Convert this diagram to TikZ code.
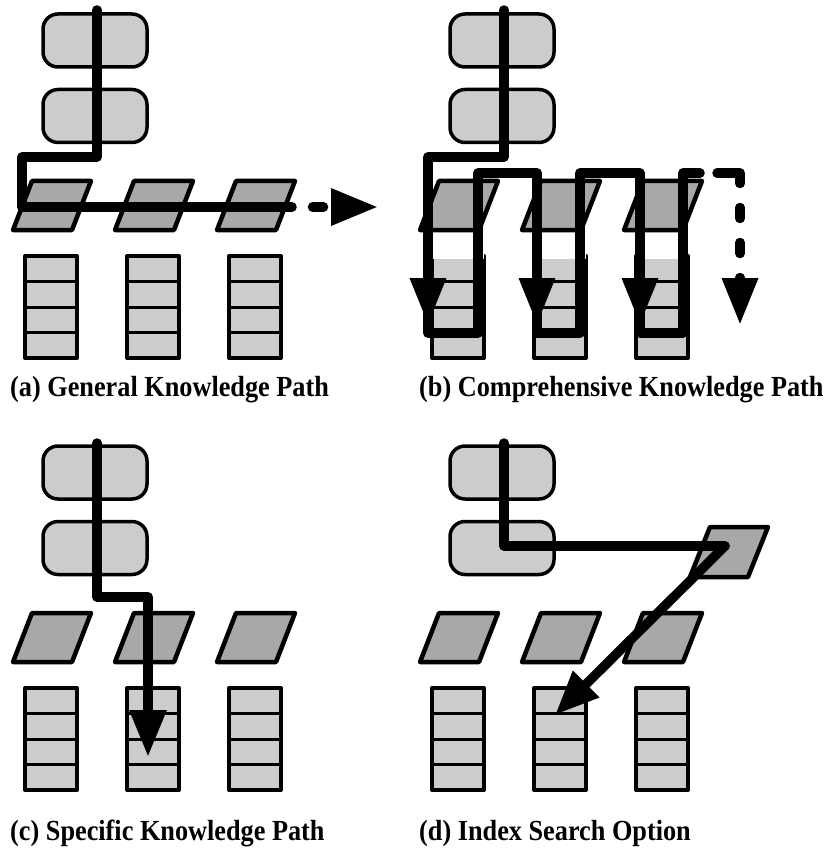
\documentclass[tikz,border=0pt]{standalone}
\usepackage{fontspec}
\setmainfont{Liberation Serif}
\usetikzlibrary{arrows.meta}
\definecolor{lightbox}{gray}{0.8}
\definecolor{darkpara}{gray}{0.66}
\tikzset{
  rbox/.style={draw, line width=3.5pt, fill=lightbox, rounded corners=15pt,
    minimum width=104pt, minimum height=53pt, inner sep=0pt},
  para/.style={draw, line width=4.5pt, fill=darkpara, line join=round},
  cellbox/.style={draw, line width=4pt, fill=lightbox, line join=round},
  cellline/.style={line width=3pt},
  route/.style={line width=9.5pt, line cap=round, line join=round},
  bigtip/.style={-{Triangle[length=47pt,width=35pt]}},
  midtip/.style={-{Triangle[length=47pt,width=34pt]}},
  diagtip/.style={-{Triangle[length=44pt,width=35pt]}},
  caption/.style={anchor=base west, inner sep=0pt, font=\bfseries\fontsize{26}{30}\selectfont},
}
\newcommand{\captext}[1]{\scalebox{1.01}[1.12]{#1}}
\newcommand{\panelparts}[1]{%
  \node[rbox] (#1top) at (95,40.5) {};
  \node[rbox] (#1mid) at (95,116) {};
  \foreach \i in {0,1,2}{%
    \draw[para] ({32+102*\i},181) -- ({91+102*\i},181) -- ({72+102*\i},230) -- ({13+102*\i},230) -- cycle;
    \draw[cellbox] ({25+102*\i},256) rectangle ({77+102*\i},358);
    \foreach \yy in {281.5,307,332.5}{\draw[cellline] ({25+102*\i},\yy) -- ({77+102*\i},\yy);}
  }%
}
\begin{document}
\begin{tikzpicture}[x=1pt,y=-1pt]
\useasboundingbox (0,0) rectangle (828,850);

% ---------- (a)
\begin{scope}
  \panelparts{a}
  \coordinate (a0) at (97,10);
  \coordinate (a1) at (97,157);
  \coordinate (a2) at (22,157);
  \coordinate (a3) at (22,207);
  \coordinate (a4) at (292,207);
  \coordinate (a5) at (312.5,207);
  \coordinate (a6) at (378,207);
  \draw[route] (a0) -- (a1) -- (a2) -- (a3) -- (a4);
  \draw[route, bigtip, dash pattern=on 11pt off 100pt] (a5) -- (a6);
\end{scope}

% ---------- (b)
\begin{scope}[shift={(407,0)}]
  \panelparts{b}
  \foreach \i in {0,1,2}{\fill[white] ({25+102*\i},232.5) rectangle ({77+102*\i},258.5);}
  \coordinate (b0) at (97,10);
  \coordinate (b1) at (97,157);
  \coordinate (b2) at (21,157);
  \coordinate (b3) at (21,333);
  \coordinate (b4) at (71,333);
  \coordinate (b5) at (71,173);
  \coordinate (b6) at (130,173);
  \coordinate (b7) at (130,333);
  \coordinate (b8) at (173,333);
  \coordinate (b9) at (173,173);
  \coordinate (b10) at (233,173);
  \coordinate (b11) at (233,333);
  \coordinate (b12) at (276,333);
  \coordinate (b13) at (276,173);
  \coordinate (b14) at (293,173);
  \coordinate (b15) at (310,173);
  \coordinate (b16) at (333,173);
  \coordinate (b17) at (333,325);
  \draw[route] (b0) -- (b1) -- (b2) -- (b3) -- (b4) -- (b5) -- (b6) -- (b7) -- (b8)
    -- (b9) -- (b10) -- (b11) -- (b12) -- (b13) -- (b14);
  \draw[route, midtip, dash pattern=on 33.5pt off 24pt on 11pt off 24pt on 11pt off 24pt on 11pt off 100pt]
    (b15) -- (b16) -- (b17);
  \foreach \xx/\n in {21/1,130/2,233/3}{
    \coordinate (bs\n) at (\xx,268);
    \coordinate (be\n) at (\xx,325);
    \draw[route, midtip] (bs\n) -- (be\n);
  }
\end{scope}

% ---------- (c)
\begin{scope}[shift={(0,432)}]
  \panelparts{c}
  \coordinate (c0) at (97,11);
  \coordinate (c1) at (97,165);
  \coordinate (c2) at (148,165);
  \coordinate (c3) at (148,325);
  \draw[route, bigtip] (c0) -- (c1) -- (c2) -- (c3);
\end{scope}

% ---------- (d)
\begin{scope}[shift={(407,432)}]
  \panelparts{d}
  \draw[para] (303,95) -- (361,95) -- (341,145) -- (283,145) -- cycle;
  \coordinate (d0) at (97,11);
  \coordinate (d1) at (97,114);
  \coordinate (d2) at (318,114);
  \coordinate (d3) at (148,283);
  \draw[route] (d0) -- (d1) -- (d2);
  \draw[route, diagtip] (d2) -- (d3);
\end{scope}

% ---------- captions
\node[caption] (capa) at (10,396) {\captext{(a) General Knowledge Path}};
\node[caption] (capb) at (419,396) {\captext{(b) Comprehensive Knowledge Path}};
\node[caption] (capc) at (10,840) {\captext{(c) Specific Knowledge Path}};
\node[caption] (capd) at (419,840) {\captext{(d) Index Search Option}};
\end{tikzpicture}
\end{document}
